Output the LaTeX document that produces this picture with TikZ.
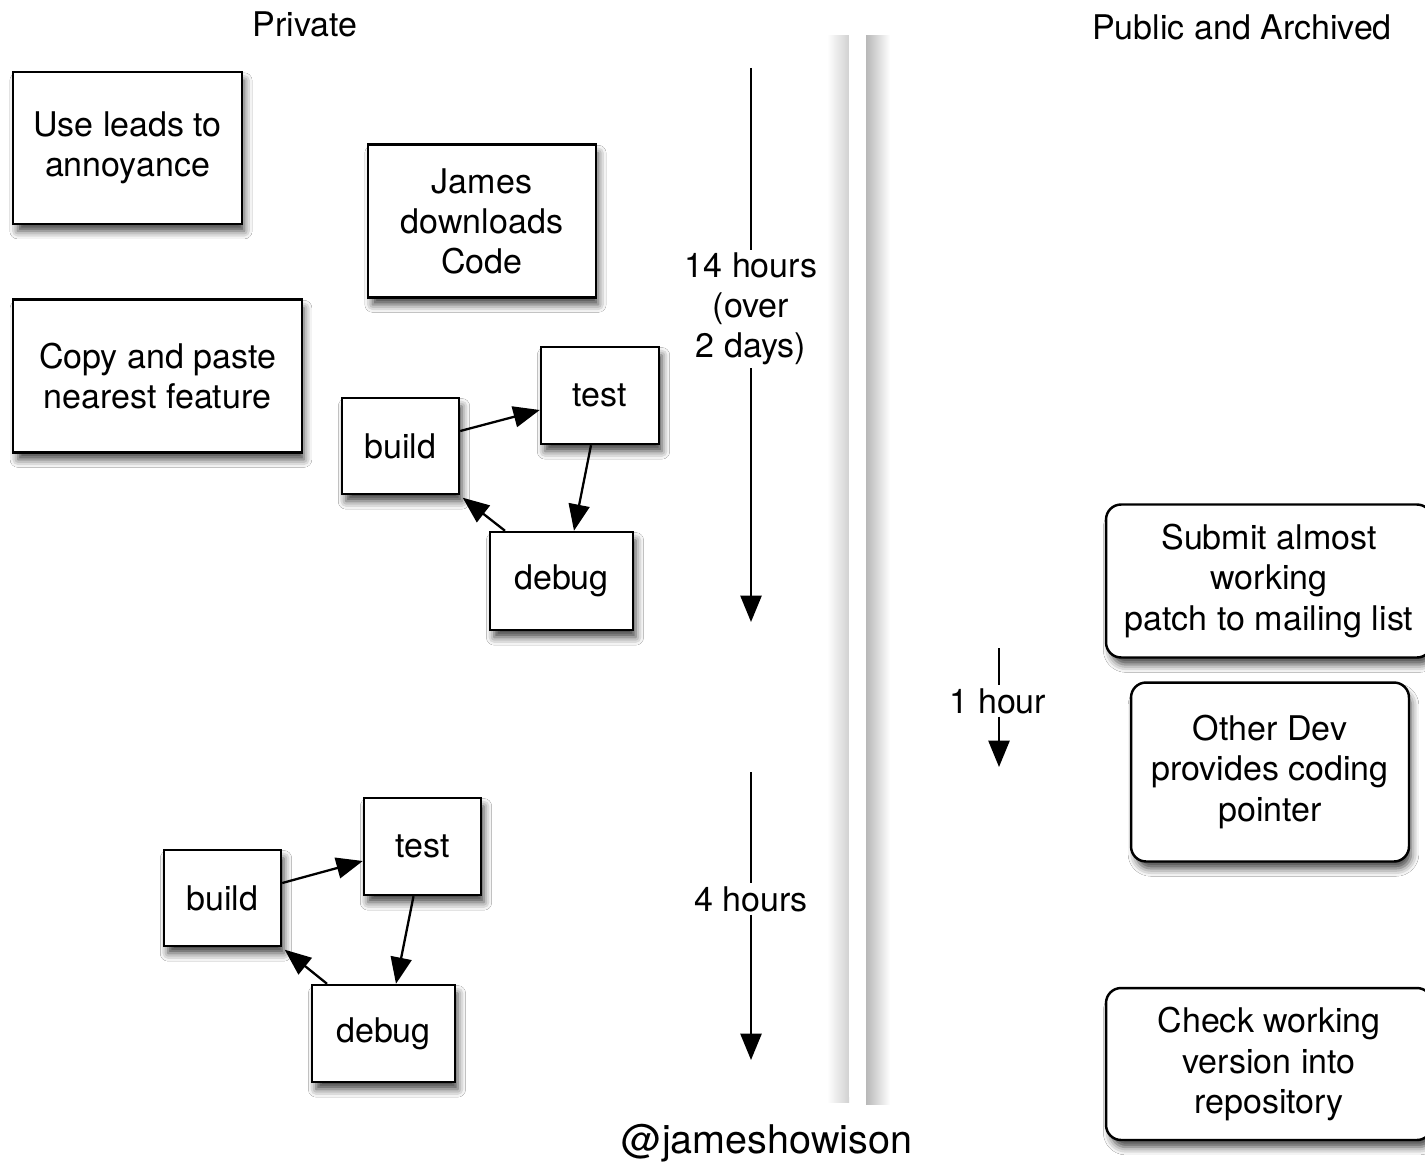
\documentclass[tikz,border=0pt]{standalone}
\usepackage{fontspec}
\setmainfont{TeX Gyre Heros}
\usetikzlibrary{arrows.meta,shadows.blur}
\newcommand\dtxt{\fontsize{19.35}{22.8}\selectfont}
\newcommand\dbig{\fontsize{22.5}{26}\selectfont}
\tikzset{
  box/.style={draw=black, line width=1.4pt, fill=white, align=center, font=\dtxt, inner sep=2pt,
    blur shadow={shadow xshift=2pt, shadow yshift=-4.5pt, shadow blur radius=4.5pt, shadow opacity=75, shadow scale=0.99}},
  rbox/.style={box, rounded corners=0.3cm},
  arr/.style={line width=1.3pt, draw=black, -{Triangle[length=15pt,width=12pt,fill=black]}},
  plain/.style={line width=1.3pt},
  lbl/.style={font=\dtxt, align=center},
  gaplbl/.style={font=\dtxt, align=center, inner sep=1.5pt}
}
\begin{document}
\begin{tikzpicture}[x=0.02cm,y=-0.02cm]
\fill[white] (0,0) rectangle (1425,1165);
\useasboundingbox (0,0) rectangle (1425,1165);

% headings
\node[lbl] (hpriv) at (305,24) {Private};
\node[lbl] (hpub) at (1242,27) {Public and Archived};

% separating bar with soft side shadows
\shade[left color=white, right color=black!18] (827,36) rectangle (849,1102);
\shade[left color=black!28, right color=white] (866,36) rectangle (890,1104);
\fill[white] (849,30) rectangle (866,1097);

% left boxes
\node[box, minimum width=4.58cm, minimum height=3.04cm] (use) at (127.5,148) {Use leads to\\annoyance};
\node[box, minimum width=4.56cm, minimum height=3.06cm] (james) at (482,221) {James\\downloads\\Code};
\node[box, minimum width=5.78cm, minimum height=3.06cm] (copy) at (157.5,376) {Copy and paste\\nearest feature};

% first cycle
\node[box, minimum width=2.34cm, minimum height=1.92cm] (b1) at (400.5,446) {build};
\node[box, minimum width=2.36cm, minimum height=1.94cm] (t1) at (600,395.5) {test};
\node[box, minimum width=2.86cm, minimum height=1.96cm] (d1) at (561.5,581) {debug};
\draw[arr] ([yshift=0.3cm]b1.east) -- ([yshift=-0.29cm]t1.west);
\draw[arr] ([xshift=-0.18cm]t1.south) -- ([xshift=0.25cm]d1.north);
\draw[arr] ([xshift=-1.13cm]d1.north) -- ([xshift=0.05cm,yshift=-0.05cm]b1.south east);

% second cycle
\node[box, minimum width=2.34cm, minimum height=1.92cm] (b2) at (222.5,898) {build};
\node[box, minimum width=2.34cm, minimum height=1.94cm] (t2) at (422.5,846.5) {test};
\node[box, minimum width=2.86cm, minimum height=1.94cm] (d2) at (383.5,1033.5) {debug};
\draw[arr] ([yshift=0.3cm]b2.east) -- ([yshift=-0.29cm]t2.west);
\draw[arr] ([xshift=-0.18cm]t2.south) -- ([xshift=0.25cm]d2.north);
\draw[arr] ([xshift=-1.13cm]d2.north) -- ([xshift=0.05cm,yshift=-0.05cm]b2.south east);

% time arrows
\node[gaplbl] (l14) at (751,309) {14 hours\\(over\\2 days)};
\coordinate (a1s) at (751,68);
\coordinate (a1e) at (751,622);
\draw[plain] (a1s) -- (a1s |- l14.north);
\draw[arr] (a1e |- l14.south) -- (a1e);

\node[gaplbl] (l4) at (751,899) {4 hours};
\coordinate (a2s) at (751,772);
\coordinate (a2e) at (751,1060);
\draw[plain] (a2s) -- (a2s |- l4.north);
\draw[arr] (a2e |- l4.south) -- (a2e);

\node[gaplbl] (l1) at (998,701) {1 hour};
\coordinate (a3s) at (999,648);
\coordinate (a3e) at (999,767);
\draw[plain] (a3s) -- (a3s |- l1.north);
\draw[arr] (a3e |- l1.south) -- (a3e);

% right boxes
\node[rbox, minimum width=6.52cm, minimum height=3.06cm] (submit) at (1269,581) {Submit almost\\working\\patch to mailing list};
\node[rbox, minimum width=5.56cm, minimum height=3.58cm] (other) at (1270,772) {Other Dev\\provides coding\\pointer};
\node[rbox, minimum width=6.52cm, minimum height=3.04cm] (check) at (1269,1064) {Check working\\version into\\repository};

% credit
\node[font=\dbig] (credit) at (767,1143) {@jameshowison};
\end{tikzpicture}
\end{document}
